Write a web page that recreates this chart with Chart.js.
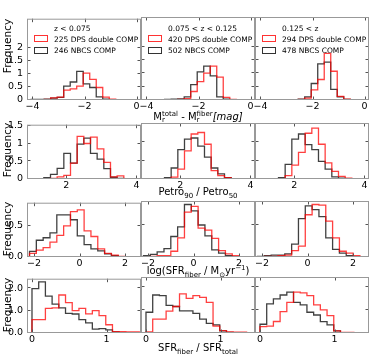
<!DOCTYPE html>
<html>
<head>
<meta charset="utf-8">
<script src="https://cdn.jsdelivr.net/npm/chart.js@4.4.1/dist/chart.umd.min.js"></script>
<style>
  body { margin: 0; background: #fff; }
  #fig { position: relative; width: 374px; height: 355px; overflow: hidden; font-family: "DejaVu Sans", sans-serif; color: #000; }
  #fig canvas { position: absolute; }
  .lbl { position: absolute; white-space: nowrap; line-height: 12px; z-index: 5; }
  .xt { font-size: 10px; transform: translateX(-50%); }
  .yt { font-size: 10.5px; transform: translate(-50%, -50%) rotate(-90deg); }
  .lg { font-size: 7.5px; line-height: 9px; transform: translateY(-50%); }
  .box { position: absolute; width: 12px; height: 5px; border: 1.2px solid; z-index: 5; }
  .sb { font-size: 7px; position: relative; top: 2.5px; }
  .sp { font-size: 7px; position: relative; top: -4px; }
  .st { position: relative; font-size: 7px; }
  .st .u { position: relative; top: -4px; }
  .st .d { position: absolute; left: 0; top: 3px; line-height: 7px; }
</style>
</head>
<body>
<div id="fig"></div>
<script>
// redshift bins and sample sizes
const zBins = ['z < 0.075', '0.075 < z < 0.125', '0.125 < z'];
const dpsCounts = [225, 420, 294];
const nbcsCounts = [246, 502, 478];

// M_r^total - M_r^fiber
const magEdges = [-4.05, -3.8, -3.55, -3.3, -3.05, -2.8, -2.55, -2.3, -2.05, -1.8, -1.55, -1.3, -1.05, -0.8, -0.55, -0.3, -0.05, 0.2];
const magDps1 = [0, 0.01, 0.01, 0.02, 0.08, 0.11, 0.38, 0.43, 0.53, 1.03, 0.79, 0.48, 0.11, 0.03, 0, 0, 0];
const magNbcs1 = [0, 0.02, 0.02, 0.03, 0.07, 0.1, 0.53, 0.69, 1.1, 0.62, 0.48, 0.12, 0.03, 0, 0, 0, 0];
const magDps2 = [0, 0, 0, 0, 0, 0, 0.02, 0.05, 0.32, 0.69, 1.01, 1.27, 0.86, 0.1, 0.02, 0, 0];
const magNbcs2 = [0, 0, 0, 0, 0.02, 0.03, 0.04, 0.12, 0.58, 1.06, 1.27, 0.91, 0.12, 0.03, 0, 0, 0];
const magDps3 = [0, 0, 0, 0, 0, 0, 0, 0.02, 0.07, 0.38, 0.77, 1.75, 1.08, 0.14, 0.03, 0, 0];
const magNbcs3 = [0, 0, 0, 0, 0, 0, 0, 0.03, 0.12, 0.62, 1.36, 1.42, 0.4, 0.12, 0.02, 0, 0];

// Petro90 / Petro50
const petroEdges = [0.98, 1.17, 1.36, 1.55, 1.74, 1.93, 2.12, 2.31, 2.5, 2.69, 2.88, 3.07, 3.26, 3.45, 3.64, 3.83];
const petroDps1 = [0, 0, 0, 0, 0.02, 0.06, 0.1, 0.45, 1.2, 1.0, 1.18, 0.85, 0.47, 0.06, 0.09];
const petroNbcs1 = [0, 0, 0.01, 0.04, 0.13, 0.3, 0.72, 0.45, 0.98, 1.15, 0.72, 0.56, 0.29, 0.05, 0.02];
const petroDps2 = [0, 0, 0, 0, 0.01, 0.05, 0.27, 0.77, 1.23, 1.27, 0.95, 0.23, 0.09, 0.04, 0.01];
const petroNbcs2 = [0, 0, 0, 0.01, 0.04, 0.3, 0.8, 1.09, 1.12, 0.9, 0.6, 0.3, 0.14, 0.04, 0.01];
const petroDps3 = [0, 0, 0, 0, 0.01, 0.09, 0.38, 0.73, 1.25, 1.39, 0.95, 0.44, 0.21, 0.07, 0.02];
const petroNbcs3 = [0, 0, 0, 0, 0.04, 0.4, 1.09, 1.23, 0.94, 0.8, 0.48, 0.27, 0.06, 0.02, 0];

// log(SFR_fiber)
const sfrEdges = [-2.2, -1.9, -1.6, -1.3, -1, -0.7, -0.4, -0.1, 0.2, 0.5, 0.8, 1.1, 1.4, 1.7, 2, 2.3, 2.6];
const sfrDps1 = [0.03, 0.06, 0.11, 0.15, 0.24, 0.35, 0.5, 0.73, 0.76, 0.42, 0.33, 0.13, 0.06, 0.03, 0.01, 0];
const sfrNbcs1 = [0.04, 0.09, 0.27, 0.31, 0.39, 0.68, 0.68, 0.6, 0.34, 0.2, 0.13, 0.1, 0.05, 0.02, 0, 0];
const sfrDps2 = [0, 0, 0.01, 0.02, 0.02, 0.09, 0.3, 0.7, 0.79, 0.45, 0.42, 0.29, 0.1, 0.05, 0.02, 0];
const sfrNbcs2 = [0.01, 0.02, 0.04, 0.08, 0.13, 0.32, 0.47, 0.82, 0.72, 0.5, 0.33, 0.11, 0.06, 0.02, 0, 0];
const sfrDps3 = [0, 0, 0.01, 0.01, 0.02, 0.03, 0.1, 0.17, 0.66, 0.82, 0.81, 0.56, 0.3, 0.09, 0.06, 0.02];
const sfrNbcs3 = [0, 0.01, 0.02, 0.03, 0.03, 0.05, 0.2, 0.6, 0.8, 0.74, 0.63, 0.3, 0.12, 0.06, 0.02, 0];

// SFR_fiber / SFR_total
const fracEdges = [0, 0.09, 0.18, 0.27, 0.36, 0.45, 0.54, 0.63, 0.72, 0.81, 0.9, 0.99, 1.08, 1.17, 1.26, 1.35, 1.44, 1.53];
const fracDps1 = [0.03, 0.6, 0.6, 1.1, 1.12, 1.7, 1.36, 1.0, 1.1, 0.86, 1.0, 0.78, 0.37, 0.06, 0.06, 0.05, 0.05];
const fracNbcs1 = [0.96, 1.99, 2.29, 1.65, 1.29, 1.12, 0.88, 0.85, 0.6, 0.45, 0.17, 0.2, 0.14, 0.05, 0, 0, 0];
const fracDps2 = [0.02, 0.05, 0.6, 0.6, 0.95, 1.15, 1.7, 1.5, 1.62, 1.55, 1.33, 0.3, 0.1, 0.05, 0.04, 0.04, 0];
const fracNbcs2 = [0.03, 0.9, 1.65, 1.62, 1.2, 1.15, 0.96, 0.96, 0.85, 0.6, 0.42, 0.35, 0.09, 0.03, 0, 0, 0];
const fracDps3 = [0.15, 0.28, 0.3, 0.5, 0.93, 1.33, 1.77, 1.74, 1.62, 1.22, 1.0, 0.75, 0.09, 0.03, 0.03, 0, 0];
const fracNbcs3 = [0.23, 0.38, 1.26, 1.48, 1.65, 1.77, 1.33, 1.22, 0.9, 0.78, 0.49, 0.35, 0.09, 0.02, 0.02, 0, 0];

// tick values and labels
const magXTicks = [-4, -2, 0];
const petroXTicks = [2, 4];
const sfrXTicks = [-2, 0, 2];
const fracXTicks = [0, 1];
const magYTicks = [0, 0.5, 1, 1.5, 2];
const magYLabels = ['0', '0.5', '1', '1.5', '2'];
const petroYTicks = [0, 0.5, 1, 1.5];
const petroYLabels = ['0', '0.5', '1', '1.5'];
const sfrYTicks = [0, 0.5];
const sfrYLabels = ['0.0', '0.5'];
const fracYTicks = [0, 1, 2];
const fracYLabels = ['0.0', '1.0', '2.0'];

Chart.defaults.font.family = '"DejaVu Sans", sans-serif';

const fig = document.getElementById('fig');
const colLeft = [27, 141, 255];
const panelW = 114;
const AXW = 30, AXH = 16, PADT = 8, PADR = 10;

const rows = [
  { edges: magEdges, dps: [magDps1, magDps2, magDps3], nbcs: [magNbcs1, magNbcs2, magNbcs3],
    xmin: -4.21, xmax: 0.17, ymax: 3.12, xt: magXTicks, yt: magYTicks, yl: magYLabels, top: 17, h: 83 },
  { edges: petroEdges, dps: [petroDps1, petroDps2, petroDps3], nbcs: [petroNbcs1, petroNbcs2, petroNbcs3],
    xmin: 0.88, xmax: 4.13, ymax: 1.53, xt: petroXTicks, yt: petroYTicks, yl: petroYLabels, top: 123, h: 56 },
  { edges: sfrEdges, dps: [sfrDps1, sfrDps2, sfrDps3], nbcs: [sfrNbcs1, sfrNbcs2, sfrNbcs3],
    xmin: -2.31, xmax: 2.7, ymax: 0.875, xt: sfrXTicks, yt: sfrYTicks, yl: sfrYLabels, top: 201, h: 56 },
  { edges: fracEdges, dps: [fracDps1, fracDps2, fracDps3], nbcs: [fracNbcs1, fracNbcs2, fracNbcs3],
    xmin: -0.067, xmax: 1.463, ymax: 2.43, xt: fracXTicks, yt: fracYTicks, yl: fracYLabels, top: 277, h: 56 }
];

function stepPoints(edges, h) {
  const pts = [{ x: edges[0], y: 0 }];
  h.forEach((v, i) => pts.push({ x: edges[i], y: v }));
  pts.push({ x: edges[h.length], y: 0 });
  return pts;
}

function fmtX(v) {
  return v < 0 ? '\u2212' + Math.abs(v) : String(v);
}

const framePlugin = {
  id: 'frame',
  afterDatasetsDraw(chart) {
    const { ctx, chartArea: a, scales: { x, y } } = chart;
    ctx.save();
    ctx.strokeStyle = '#555';
    ctx.lineWidth = 1;
    ctx.beginPath();
    y.ticks.forEach(t => {
      const py = Math.round(y.getPixelForValue(t.value)) - 0.5;
      ctx.moveTo(a.left, py); ctx.lineTo(a.left + 3.5, py);
      ctx.moveTo(a.right, py); ctx.lineTo(a.right - 3.5, py);
    });
    x.ticks.forEach(t => {
      const px = Math.round(x.getPixelForValue(t.value)) + 0.5;
      ctx.moveTo(px, a.bottom); ctx.lineTo(px, a.bottom - 3.5);
      ctx.moveTo(px, a.top); ctx.lineTo(px, a.top + 3.5);
    });
    ctx.stroke();
    ctx.strokeStyle = '#999';
    ctx.strokeRect(a.left + 0.5, a.top + 0.5, a.right - a.left - 1, a.bottom - a.top - 1);
    ctx.restore();
  }
};

rows.forEach((r, ri) => {
  for (let c = 0; c < 3; c++) {
    const cv = document.createElement('canvas');
    const w = AXW + panelW + PADR, hh = PADT + r.h + AXH;
    cv.width = w; cv.height = hh;
    cv.style.left = (colLeft[c] - AXW) + 'px';
    cv.style.top = (r.top - PADT) + 'px';
    cv.style.width = w + 'px'; cv.style.height = hh + 'px';
    fig.appendChild(cv);
    new Chart(cv, {
      type: 'line',
      data: {
        datasets: [
          { data: stepPoints(r.edges, r.dps[c]), borderColor: 'rgba(255,0,0,0.75)', borderWidth: 1.3,
            stepped: 'after', pointRadius: 0, fill: false },
          { data: stepPoints(r.edges, r.nbcs[c]), borderColor: 'rgba(0,0,0,0.75)', borderWidth: 1.3,
            stepped: 'after', pointRadius: 0, fill: false }
        ]
      },
      options: {
        responsive: false,
        animation: false,
        devicePixelRatio: 1,
        layout: { padding: { top: PADT, right: PADR, left: 0, bottom: 0 } },
        plugins: { legend: { display: false }, tooltip: { enabled: false } },
        scales: {
          x: {
            type: 'linear', min: r.xmin, max: r.xmax,
            afterBuildTicks: s => { s.ticks = r.xt.map(v => ({ value: v })); },
            afterFit: s => { s.height = AXH; },
            grid: { display: false, drawTicks: false },
            border: { display: false },
            ticks: { color: '#000', font: { size: 9.5 }, padding: 1, maxRotation: 0, autoSkip: false,
                     callback: v => fmtX(v) }
          },
          y: {
            type: 'linear', min: 0, max: r.ymax,
            afterBuildTicks: s => { s.ticks = r.yt.map(v => ({ value: v })); },
            afterFit: s => { s.width = AXW; },
            grid: { display: false, drawTicks: false },
            border: { display: false },
            ticks: { display: c === 0, color: '#000', font: { size: 9.5 }, padding: 4, autoSkip: false,
                     callback: (v, i) => r.yl[i] }
          }
        }
      },
      plugins: [framePlugin]
    });
  }
});

function addText(html, cls, left, top) {
  const d = document.createElement('div');
  d.className = 'lbl ' + cls;
  d.style.left = left + 'px';
  d.style.top = top + 'px';
  d.innerHTML = html;
  fig.appendChild(d);
}

// legends in the top row
for (let c = 0; c < 3; c++) {
  const pl = colLeft[c];
  addText(zBins[c], 'lg', pl + 27, 28);
  addText(dpsCounts[c] + ' DPS double COMP', 'lg', pl + 27, 38.5);
  addText(nbcsCounts[c] + ' NBCS COMP', 'lg', pl + 27, 50);
  const b1 = document.createElement('div');
  b1.className = 'box';
  b1.style.cssText = 'left:' + (pl + 6.5) + 'px;top:35px;border-color:rgba(255,0,0,0.8)';
  fig.appendChild(b1);
  const b2 = document.createElement('div');
  b2.className = 'box';
  b2.style.cssText = 'left:' + (pl + 6.5) + 'px;top:46.5px;border-color:rgba(0,0,0,0.8)';
  fig.appendChild(b2);
}

// axis titles
const cx = 198;
addText('M<span class="st"><span class="u">total</span><span class="d">r</span></span> - M<span class="st"><span class="u">fiber</span><span class="d">r</span></span><i>[mag]</i>', 'xt', cx, 111);
addText('Petro<span class="sb">90</span> / Petro<span class="sb">50</span>', 'xt', cx, 186);
addText('log(SFR<span class="sb">fiber</span> / M<span class="sb">\u2299</span>yr<span class="sp">\u22121</span>)', 'xt', cx, 265);
addText('SFR<span class="sb">fiber</span> / SFR<span class="sb">total</span>', 'xt', cx, 342);

[46, 150, 229, 305].forEach(y => addText('Frequency', 'yt', 7, y));
</script>
</body>
</html>
